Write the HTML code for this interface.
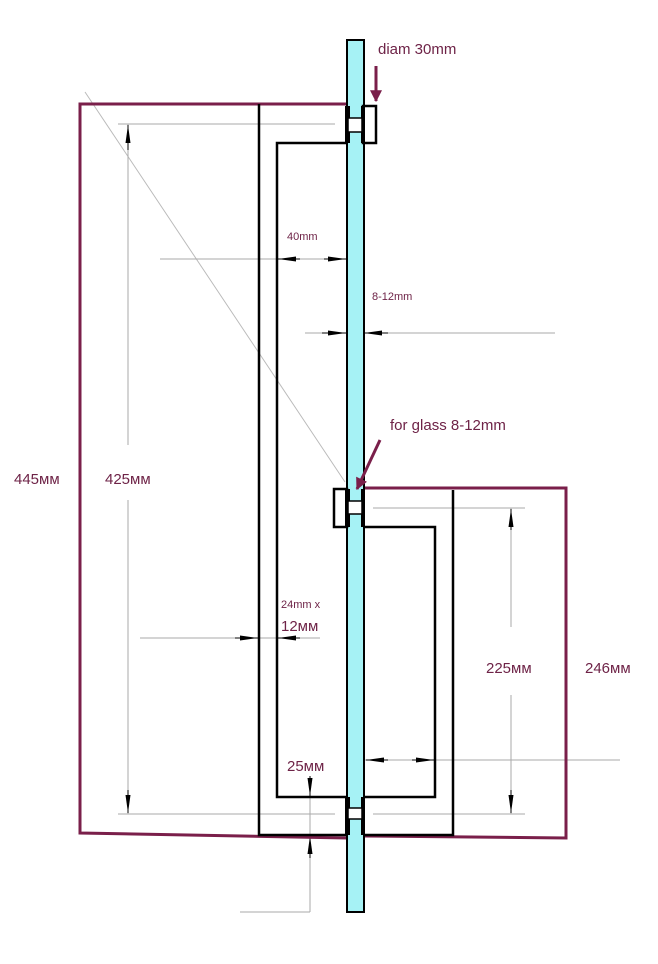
<!DOCTYPE html>
<html><head><meta charset="utf-8"><style>
html,body{margin:0;padding:0;background:#fff;}
svg{display:block;}
text{font-family:"Liberation Sans","DejaVu Sans",sans-serif;fill:#6e2347;}
</style></head><body>
<svg width="658" height="964" viewBox="0 0 658 964" xmlns="http://www.w3.org/2000/svg">
<defs>
<marker id="ah" viewBox="0 0 18 8" refX="18" refY="4" markerUnits="userSpaceOnUse" markerWidth="18" markerHeight="8" orient="auto-start-reverse"><path d="M0,1.5 L18,4 L0,6.5 z" fill="#000"/></marker>
<marker id="pa" viewBox="0 0 10 10" refX="9" refY="5" markerWidth="4" markerHeight="4" orient="auto"><path d="M0,0 L10,5 L0,10 z" fill="#7a1f4a"/></marker>
</defs>
<line x1="85" y1="92" x2="345" y2="482" stroke="#bbb" stroke-width="1"/>
<g stroke="#aaa" stroke-width="1">
<line x1="118" y1="124" x2="335" y2="124"/>
<line x1="118" y1="814" x2="335" y2="814"/>
<line x1="373" y1="508" x2="525" y2="508"/>
<line x1="373" y1="814" x2="525" y2="814"/>
<line x1="160" y1="259" x2="347" y2="259"/>
<line x1="305" y1="333" x2="555" y2="333"/>
<line x1="140" y1="638" x2="320" y2="638"/>
<line x1="365" y1="760" x2="620" y2="760"/>
<line x1="310" y1="780" x2="310" y2="912"/>
<line x1="240" y1="912" x2="310" y2="912"/>
<line x1="128" y1="124" x2="128" y2="445"/>
<line x1="128" y1="500" x2="128" y2="814"/>
<line x1="511" y1="508" x2="511" y2="627"/>
<line x1="511" y1="695" x2="511" y2="814"/>
</g>
<g stroke="#000" stroke-width="1" fill="none">
<line x1="128" y1="150" x2="128" y2="125" marker-end="url(#ah)"/>
<line x1="128" y1="790" x2="128" y2="813" marker-end="url(#ah)"/>
<line x1="511" y1="530" x2="511" y2="509" marker-end="url(#ah)"/>
<line x1="511" y1="790" x2="511" y2="813" marker-end="url(#ah)"/>
<line x1="300" y1="259" x2="278" y2="259" marker-end="url(#ah)"/>
<line x1="324" y1="259" x2="346" y2="259" marker-end="url(#ah)"/>
<line x1="322" y1="333" x2="346" y2="333" marker-end="url(#ah)"/>
<line x1="388" y1="333" x2="364" y2="333" marker-end="url(#ah)"/>
<line x1="235" y1="638" x2="258" y2="638" marker-end="url(#ah)"/>
<line x1="300" y1="638" x2="278" y2="638" marker-end="url(#ah)"/>
<line x1="388" y1="760" x2="366" y2="760" marker-end="url(#ah)"/>
<line x1="412" y1="760" x2="434" y2="760" marker-end="url(#ah)"/>
<line x1="310" y1="776" x2="310" y2="796" marker-end="url(#ah)"/>
<line x1="310" y1="858" x2="310" y2="836" marker-end="url(#ah)"/>
</g>
<g stroke="#7a1f4a" stroke-width="3" fill="none">
<polyline points="347,104 80,104 80,833 347,838"/>
<polyline points="365,488 566,488 566,838 365,836"/>
</g>
<rect x="347" y="40" width="17" height="872" fill="#a6f2f5" stroke="#000" stroke-width="2"/>
<g stroke="#000" stroke-width="2.5" fill="none">
<polyline points="259,104 259,835 347,835"/>
<polyline points="347,143 277,143 277,797 347,797"/>
<polyline points="365,527 435,527 435,797 365,797"/>
<polyline points="453,490 453,835 365,835"/>
<rect x="363" y="106" width="13" height="37"/>
<rect x="334" y="489" width="13" height="38"/>
</g>
<g>
<rect x="345" y="106" width="5" height="37" fill="#000"/>
<rect x="361" y="106" width="4" height="37" fill="#000"/>
<rect x="348" y="118" width="14" height="14" fill="#fff" stroke="#000" stroke-width="1.5"/>
<rect x="345" y="489" width="5" height="38" fill="#000"/>
<rect x="361" y="489" width="4" height="38" fill="#000"/>
<rect x="348" y="501" width="14" height="13" fill="#fff" stroke="#000" stroke-width="1.5"/>
<rect x="345" y="797" width="5" height="38" fill="#000"/>
<rect x="361" y="797" width="4" height="38" fill="#000"/>
<rect x="348" y="808" width="14" height="11" fill="#fff" stroke="#000" stroke-width="1.5"/>
</g>
<line x1="376" y1="66" x2="376" y2="101" stroke="#7a1f4a" stroke-width="3" marker-end="url(#pa)"/>
<line x1="380" y1="440" x2="357" y2="489" stroke="#7a1f4a" stroke-width="3" marker-end="url(#pa)"/>
<text x="378" y="54" font-size="15">diam 30mm</text>
<text x="390" y="430" font-size="15">for glass 8-12mm</text>
<text x="287" y="240" font-size="11">40mm</text>
<text x="372" y="300" font-size="11">8-12mm</text>
<text x="281" y="608" font-size="11">24mm x</text>
<text x="281" y="631" font-size="15">12мм</text>
<text x="287" y="771" font-size="15">25мм</text>
<text x="14" y="484" font-size="15">445мм</text>
<text x="105" y="484" font-size="15">425мм</text>
<text x="486" y="673" font-size="15">225мм</text>
<text x="585" y="673" font-size="15">246мм</text>
</svg>
</body></html>
